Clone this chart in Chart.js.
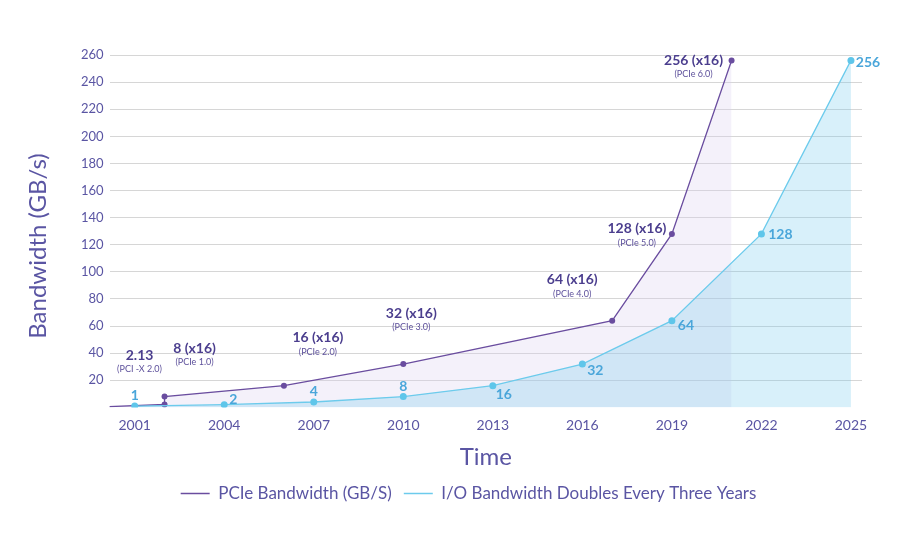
<!DOCTYPE html>
<html>
<head>
<meta charset="utf-8">
<script src="https://cdn.jsdelivr.net/npm/chart.js@4"></script>
<style>
  html, body { margin: 0; padding: 0; background: #fff; }
  #wrap { width: 900px; height: 533px; }
</style>
</head>
<body>
<div id="wrap"><canvas id="bwChart"></canvas></div>
<script>
// tick labels
const yearTicks = [2001, 2004, 2007, 2010, 2013, 2016, 2019, 2022, 2025];
const bwTicks = [20, 40, 60, 80, 100, 120, 140, 160, 180, 200, 220, 240, 260];

// PCIe generations
const pcieYears = [2000, 2002, 2002, 2006, 2010, 2017, 2019, 2021];
const pcieValues = [0.5, 2.13, 8, 16, 32, 64, 128, 256];
const pcieLabels = ["", "2.13", "8 (x16)", "16 (x16)", "32 (x16)", "64 (x16)", "128 (x16)", "256 (x16)"];
const pcieNotes = ["", "(PCI -X 2.0)", "(PCIe 1.0)", "(PCIe 2.0)", "(PCIe 3.0)", "(PCIe 4.0)", "(PCIe 5.0)", "(PCIe 6.0)"];

// I/O doubling every three years
const ioYears = [2001, 2004, 2007, 2010, 2013, 2016, 2019, 2022, 2025];
const ioValues = [1, 2, 4, 8, 16, 32, 64, 128, 256];

// label placement relative to each point (dx, dy)
const pcieLabelOffset = [null, [-25, -49], [30, -48], [34, -48], [8, -51], [-40, -41], [-35, -5], [-38, 0]];
const ioLabelOffset = [[0, -11], [9, -5], [0, -10], [0, -10], [11, 9], [13, 6], [14, 5], [19, 1], [17, 2]];

const FONT = "Lato, 'Open Sans', sans-serif";
const PURPLE = "#6a4d9f";
const BLUE = "#6ccbec";
const TEXT = "#5a55a3";

const pointLabels = {
    id: "pointLabels",
    afterDatasetsDraw(chart) {
        const ctx = chart.ctx;
        ctx.save();
        ctx.textAlign = "center";
        ctx.textBaseline = "middle";

        chart.getDatasetMeta(0).data.forEach((pt, i) => {
            const o = pcieLabelOffset[i];
            if (!o) return;
            ctx.fillStyle = "#4b3e8e";
            ctx.font = "bold 14px " + FONT;
            ctx.fillText(pcieLabels[i], pt.x + o[0], pt.y + o[1]);
            ctx.fillStyle = "#5d509b";
            ctx.font = "9px " + FONT;
            ctx.fillText(pcieNotes[i], pt.x + o[0], pt.y + o[1] + 14);
        });

        chart.getDatasetMeta(1).data.forEach((pt, i) => {
            const o = ioLabelOffset[i];
            ctx.fillStyle = "#4aa6da";
            ctx.font = "bold 14px " + FONT;
            ctx.fillText(String(ioValues[i]), pt.x + o[0], pt.y + o[1]);
        });

        // y axis title
        ctx.translate(38, 246);
        ctx.rotate(-Math.PI / 2);
        ctx.fillStyle = TEXT;
        ctx.font = "24px " + FONT;
        ctx.fillText("Bandwidth (GB/s)", 0, 0);
        ctx.restore();
    }
};

const ctx = document.getElementById("bwChart").getContext("2d");
new Chart(ctx, {
    type: "line",
    data: {
        datasets: [{
            label: "PCIe Bandwidth (GB/S)",
            data: pcieYears.map((x, i) => ({ x: x, y: pcieValues[i] })),
            borderColor: PURPLE,
            backgroundColor: "rgba(220, 210, 238, 0.3)",
            borderWidth: 1.3,
            pointRadius: pcieYears.map((y, i) => i === 0 ? 0 : 3),
            pointBackgroundColor: PURPLE,
            pointBorderWidth: 0,
            fill: "origin",
            tension: 0,
            order: 1
        }, {
            label: "I/O Bandwidth Doubles Every Three Years",
            data: ioYears.map((x, i) => ({ x: x, y: ioValues[i] })),
            borderColor: BLUE,
            backgroundColor: "rgba(110, 200, 235, 0.27)",
            borderWidth: 1.3,
            pointRadius: 3.5,
            pointBackgroundColor: "#5fc6ea",
            pointBorderWidth: 0,
            fill: "origin",
            tension: 0,
            order: 0
        }]
    },
    options: {
        responsive: true,
        maintainAspectRatio: false,
        animation: false,
        layout: { padding: { top: 55, right: 38, left: 75, bottom: 21 } },
        plugins: {
            tooltip: { enabled: false },
            legend: {
                position: "bottom",
                labels: {
                    usePointStyle: true,
                    pointStyle: "line",
                    pointStyleWidth: 29,
                    boxHeight: 10,
                    padding: 12,
                    color: TEXT,
                    font: { family: FONT, size: 17 },
                    sort: (a, b) => a.datasetIndex - b.datasetIndex,
                    generateLabels: (chart) => Chart.defaults.plugins.legend.labels.generateLabels(chart).map(l => {
                        l.lineWidth = 1.5;
                        l.strokeStyle = chart.data.datasets[l.datasetIndex].borderColor;
                        return l;
                    })
                }
            }
        },
        scales: {
            x: {
                type: "linear",
                min: 2000.16,
                max: 2025.37,
                grid: { display: false },
                border: { display: false },
                afterBuildTicks: (axis) => { axis.ticks = yearTicks.map(v => ({ value: v })); },
                ticks: {
                    color: TEXT,
                    font: { family: FONT, size: 14 },
                    padding: 2,
                    maxRotation: 0,
                    callback: (v) => String(v)
                },
                title: {
                    display: true,
                    text: "Time",
                    color: TEXT,
                    font: { family: FONT, size: 24 },
                    padding: { top: 7, bottom: 1 }
                }
            },
            y: {
                min: 0,
                max: 260,
                grid: { color: "#d6d6d6", lineWidth: 1, drawTicks: false },
                border: { display: false },
                afterBuildTicks: (axis) => { axis.ticks = bwTicks.map(v => ({ value: v })); },
                ticks: {
                    color: TEXT,
                    font: { family: FONT, size: 13 },
                    padding: 6
                }
            }
        }
    },
    plugins: [pointLabels]
});
</script>
</body>
</html>
